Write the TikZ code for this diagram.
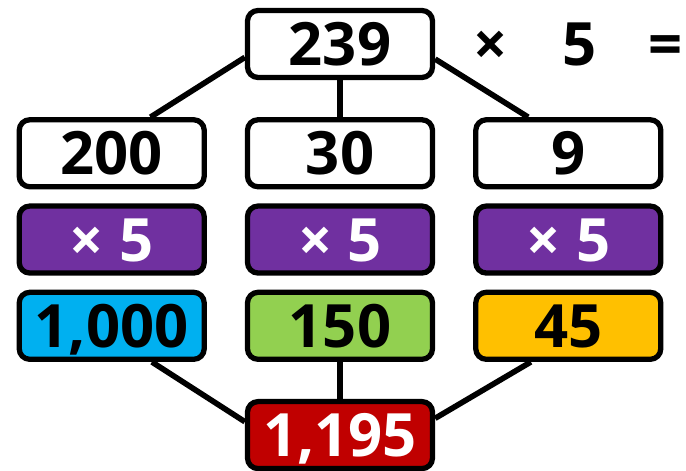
\documentclass[tikz,border=0pt]{standalone}
\usepackage{fontspec}
\setmainfont{Open Sans}
\usetikzlibrary{positioning}
\definecolor{PVpurple}{HTML}{7030A0}
\definecolor{PVblue}{HTML}{00B0F0}
\definecolor{PVgreen}{HTML}{92D050}
\definecolor{PVamber}{HTML}{FFC000}
\definecolor{PVred}{HTML}{C00000}
\tikzset{
  pvbox/.style={
    rectangle, rounded corners=6pt, draw=black, line width=3pt,
    fill=white, text=black, inner sep=0pt, minimum width=3.7cm,
    minimum height=1.34cm, text height=0.86cm, text depth=0pt,
    font=\fontsize{34}{40}\selectfont\bfseries},
  pvmult/.style={pvbox, fill=PVpurple, text=white},
  pvsum/.style={pvbox, fill=PVred, text=white},
  pvsign/.style={pvbox, draw=none, fill=none, minimum width=0pt},
  pvline/.style={line width=3.2pt, draw=black},
}
\begin{document}
\begin{tikzpicture}[node distance=0.28cm]
  \useasboundingbox (-6.8,0.88) rectangle (6.92,-8.54);
  % whole number and its parts
  \node[pvbox] (n239) at (0,0) {239};
  \node[pvbox, below=0.74cm of n239] (n30) {30};
  \node[pvbox, left=0.76cm of n30] (n200) {200};
  \node[pvbox, right=0.76cm of n30] (n9) {9};
  \node[pvsign, right=0.72cm of n239] (times) {×};
  \node[pvsign, right=0.98cm of times] (five) {5};
  \node[pvsign, right=0.93cm of five] (equals) {=};
  % multiply each part
  \node[pvmult, below=of n200] (m200) {× 5};
  \node[pvmult, below=of n30] (m30) {× 5};
  \node[pvmult, below=of n9] (m9) {× 5};
  \node[pvbox, fill=PVblue, below=of m200] (n1000) {1,000};
  \node[pvbox, fill=PVgreen, below=of m30] (n150) {150};
  \node[pvbox, fill=PVamber, below=of m9] (n45) {45};
  % total
  \node[pvsum, below=0.74cm of n150] (n1195) {1,195};
  \draw[pvline](n239.188)--(n200.43);\draw[pvline](n239.south)--(n30.north);
  \draw[pvline](n239.-9)--(n9.138);
  \draw[pvline](n1000.-42)--(n1195.172);\draw[pvline](n150.south)--(n1195.north);
  \draw[pvline](n45.224)--(n1195.10);
\end{tikzpicture}
\end{document}
